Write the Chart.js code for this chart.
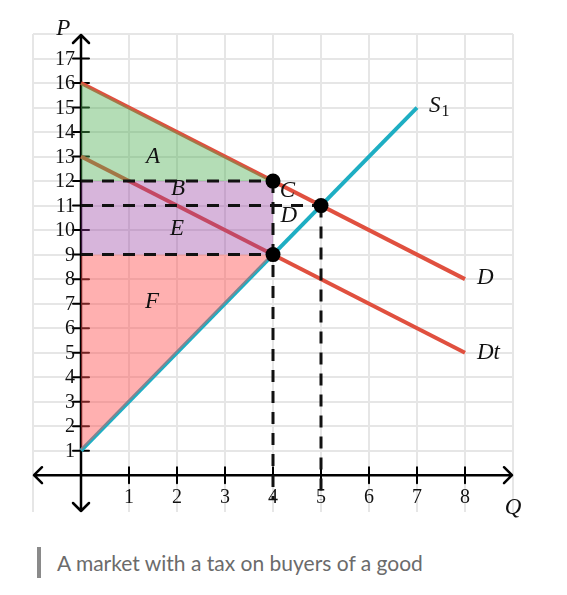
<!DOCTYPE html>
<html>
<head>
<meta charset="utf-8">
<script src="https://cdn.jsdelivr.net/npm/chart.js@4.4.1/dist/chart.umd.min.js"></script>
<style>
    body { margin: 0; background: #fff; }
    #wrap { position: relative; width: 567px; height: 530px; }
    .caption {
        position: absolute; left: 37px; top: 547px;
        border-left: 4px solid #8a8a8a;
        padding-left: 16px;
        font-family: Lato, sans-serif; font-size: 21px; color: #6b6b6b;
        line-height: 31px;
    }
</style>
</head>
<body>
<div id="wrap"><canvas id="grafico"></canvas></div>
<div class="caption">A market with a tax on buyers of a good</div>

<script>
// Curvas
const supplyQ = [0, 7];
const supplyP = [1, 15];
const demandQ = [0, 8];
const demandP = [16, 8];
const taxQ = [0, 8];
const taxP = [13, 5];

// Areas (linea + nivel de relleno)
const areaAQ = [0, 4];
const areaAP = [16, 12];
const areaABase = 12;
const areaBEQ = [0, 4];
const areaBEP = [12, 12];
const areaBEBase = 9;
const areaFQ = [0, 4];
const areaFP = [1, 9];
const areaFBase = 9;

// Lineas punteadas
const guidePrices = [12, 11, 9];
const guideEnds = [4, 5, 4];
const guideQs = [4, 5];
const guideTops = [12, 11];
const guideBottom = -1;

// Puntos de equilibrio
const eqQ = [4, 5, 4];
const eqP = [12, 11, 9];

// Ticks
const xTicks = [1, 2, 3, 4, 5, 6, 7, 8];
const yTicks = [1, 2, 3, 4, 5, 6, 7, 8, 9, 10, 11, 12, 13, 14, 15, 16, 17];

// Etiquetas
const regionLabels = ['A', 'B', 'C', 'D', 'E', 'F'];
const regionQ = [1.5, 2.02, 4.3, 4.33, 2.0, 1.48];
const regionP = [13.0, 11.67, 11.6, 10.56, 10.03, 7.05];
const curveLabels = ['D', 'Dt'];
const curveLabelQ = [8.25, 8.25];
const curveLabelP = [8.05, 5.0];

const pts = (xs, ys) => xs.map((x, i) => ({ x: x, y: ys[i] }));

const ROJO = '#e0503f';
const CIAN = '#1eaec3';
const GUION = [12, 9];

const datasets = [
    { data: pts(supplyQ, supplyP), borderColor: CIAN, borderWidth: 4, order: 4 },
    { data: pts(demandQ, demandP), borderColor: ROJO, borderWidth: 4, order: 4 },
    { data: pts(taxQ, taxP), borderColor: ROJO, borderWidth: 4, order: 4 },
    { data: pts(areaAQ, areaAP), borderWidth: 0, fill: { value: areaABase }, backgroundColor: 'rgba(76,175,80,0.42)', order: 3 },
    { data: pts(areaBEQ, areaBEP), borderWidth: 0, fill: { value: areaBEBase }, backgroundColor: 'rgba(150,60,160,0.38)', order: 3 },
    { data: pts(areaFQ, areaFP), borderWidth: 0, fill: { value: areaFBase }, backgroundColor: 'rgba(255,80,80,0.45)', order: 3 }
];

guidePrices.forEach((p, i) => {
    datasets.push({ data: pts([0, guideEnds[i]], [p, p]), borderColor: '#111', borderWidth: 3, borderDash: GUION, order: 2 });
});
guideQs.forEach((q, i) => {
    datasets.push({ data: pts([q, q], [guideTops[i], guideBottom]), borderColor: '#111', borderWidth: 3, borderDash: GUION, order: 2 });
});
datasets.push({ data: pts(eqQ, eqP), showLine: false, pointRadius: 7.5, pointBackgroundColor: '#000', pointBorderWidth: 0, order: 1 });

const ejes = {
    id: 'ejes',
    beforeDatasetsDraw(chart) {
        const { ctx, scales: { x, y } } = chart;
        const x0 = x.getPixelForValue(0);
        const y0 = y.getPixelForValue(0);
        const izq = x.getPixelForValue(x.min), der = x.getPixelForValue(x.max);
        const arr = y.getPixelForValue(y.max), aba = y.getPixelForValue(y.min);
        ctx.save();
        ctx.strokeStyle = '#000';
        ctx.lineWidth = 2.5;
        ctx.lineCap = 'round';
        ctx.lineJoin = 'round';
        ctx.beginPath();
        ctx.moveTo(izq + 1, y0); ctx.lineTo(der - 1, y0);
        ctx.moveTo(x0, arr + 1); ctx.lineTo(x0, aba - 1);
        // flechas
        const a = 8;
        ctx.moveTo(izq + a + 1, y0 - a); ctx.lineTo(izq + 1, y0); ctx.lineTo(izq + a + 1, y0 + a);
        ctx.moveTo(der - a - 1, y0 - a); ctx.lineTo(der - 1, y0); ctx.lineTo(der - a - 1, y0 + a);
        ctx.moveTo(x0 - a, arr + a + 1); ctx.lineTo(x0, arr + 1); ctx.lineTo(x0 + a, arr + a + 1);
        ctx.moveTo(x0 - a, aba - a - 1); ctx.lineTo(x0, aba - 1); ctx.lineTo(x0 + a, aba - a - 1);
        ctx.stroke();

        ctx.lineWidth = 2;
        ctx.beginPath();
        xTicks.forEach(v => {
            const px = x.getPixelForValue(v);
            ctx.moveTo(px, y0 - 8); ctx.lineTo(px, y0 + 8);
        });
        yTicks.forEach(v => {
            const py = y.getPixelForValue(v);
            ctx.moveTo(x0 - 8, py); ctx.lineTo(x0 + 8, py);
        });
        ctx.stroke();

        ctx.fillStyle = '#111';
        ctx.font = '20px "Liberation Serif", serif';
        ctx.textAlign = 'right';
        ctx.textBaseline = 'middle';
        yTicks.forEach(v => ctx.fillText(String(v), x0 - 6, y.getPixelForValue(v) + 1));
        ctx.textAlign = 'center';
        xTicks.forEach(v => ctx.fillText(String(v), x.getPixelForValue(v), y.getPixelForValue(-0.9)));
        ctx.restore();
    },
    afterDatasetsDraw(chart) {
        const { ctx, scales: { x, y } } = chart;
        ctx.save();
        ctx.fillStyle = '#111';
        ctx.textAlign = 'center';
        ctx.textBaseline = 'middle';
        ctx.font = 'italic 23px "Liberation Serif", serif';
        regionLabels.forEach((t, i) => ctx.fillText(t, x.getPixelForValue(regionQ[i]), y.getPixelForValue(regionP[i])));

        ctx.textAlign = 'left';
        curveLabels.forEach((t, i) => ctx.fillText(t, x.getPixelForValue(curveLabelQ[i]), y.getPixelForValue(curveLabelP[i])));

        // S1
        const sx = x.getPixelForValue(7.25), sy = y.getPixelForValue(15.05);
        ctx.fillText('S', sx, sy);
        const w = ctx.measureText('S').width;
        ctx.font = '16px "Liberation Serif", serif';
        ctx.fillText('1', sx + w + 1, sy + 5);

        // P y Q
        ctx.font = 'italic 23px "Liberation Serif", serif';
        ctx.textAlign = 'center';
        ctx.fillText('P', x.getPixelForValue(-0.37), y.getPixelForValue(18.2));
        ctx.fillText('Q', x.getPixelForValue(9.0), y.getPixelForValue(-1.35));
        ctx.restore();
    }
};

const ctx = document.getElementById('grafico').getContext('2d');
new Chart(ctx, {
    type: 'line',
    data: { datasets: datasets },
    plugins: [ejes],
    options: {
        responsive: true,
        maintainAspectRatio: false,
        animation: false,
        events: [],
        layout: { padding: { left: 33, right: 54, top: 34, bottom: 18 } },
        elements: { line: { tension: 0, fill: false }, point: { radius: 0 } },
        plugins: { legend: { display: false }, tooltip: { enabled: false } },
        scales: {
            x: {
                type: 'linear', min: -1, max: 9,
                ticks: { display: false, stepSize: 1 },
                border: { display: false },
                grid: { drawTicks: false, lineWidth: 2, color: c => Number.isInteger(c.tick.value) ? '#e6e6e6' : 'rgba(0,0,0,0)' }
            },
            y: {
                type: 'linear', min: -1.5, max: 18,
                ticks: { display: false, stepSize: 1 },
                border: { display: false },
                grid: { drawTicks: false, lineWidth: 2, color: c => Number.isInteger(c.tick.value) ? '#e6e6e6' : 'rgba(0,0,0,0)' }
            }
        }
    }
});
</script>
</body>
</html>
